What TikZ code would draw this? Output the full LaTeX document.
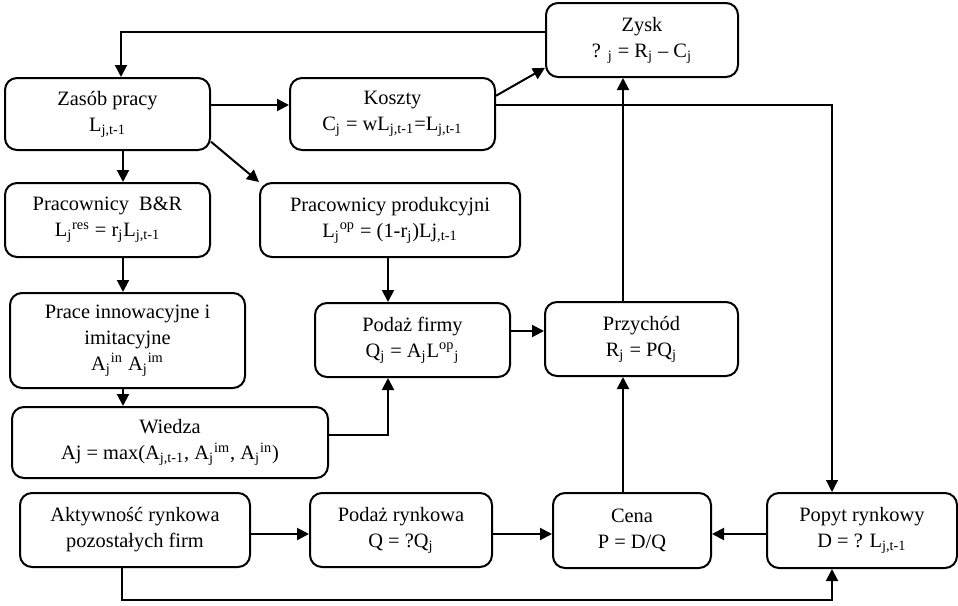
\documentclass[tikz,border=0pt]{standalone}
\usepackage{fontspec}
\setmainfont{Liberation Serif}
\usetikzlibrary{arrows.meta}

\tikzset{
  blok/.style={draw=black, line width=1pt, rounded corners=6pt, align=center, inner sep=2pt, font=\fontsize{10.2}{13}\selectfont},
  strz/.style={line width=1pt, -{Triangle[length=6pt,width=6pt]}},
  cienka/.style={line width=0.6pt, -{Triangle[length=6pt,width=6pt]}}
}

\begin{document}
\begin{tikzpicture}[x=0.5pt,y=-0.5pt]
        \useasboundingbox (0,0) rectangle (958,605);

        \node (zysk) [blok, minimum width=96pt, minimum height=37pt] at (642,40) {Zysk\\? \textsubscript{j} = R\textsubscript{j} – C\textsubscript{j}};
        \node (zasob) [blok, minimum width=102.5pt, minimum height=36pt] at (107.5,114) {Zasób pracy\\L\textsubscript{j,t-1}};
        \node (koszty) [blok, minimum width=102.5pt, minimum height=36pt] at (392.5,114) {Koszty\\C\textsubscript{j} = wL\textsubscript{j,t-1}=L\textsubscript{j,t-1}};
        \node (bir) [blok, minimum width=102.5pt, minimum height=37pt] at (107.5,220) {Pracownicy\ \ B\&R\\L\textsubscript{j}\textsuperscript{res} = r\textsubscript{j}L\textsubscript{j,t-1}};
        \node (prod) [blok, minimum width=130pt, minimum height=37pt] at (390,220) {Pracownicy produkcyjni\\L\textsubscript{j}\textsuperscript{op} = (1-r\textsubscript{j})Lj\textsubscript{,t-1}};
        \node (prace) [blok, minimum width=117.5pt, minimum height=47.5pt] at (127.5,340.5) {Prace innowacyjne i\\imitacyjne\\A\textsubscript{j}\textsuperscript{in} A\textsubscript{j}\textsuperscript{im}};
        \node (podazf) [blok, minimum width=97.5pt, minimum height=37pt] at (412.5,340) {Podaż firmy\\Q\textsubscript{j} = A\textsubscript{j}L\textsuperscript{op}\textsubscript{j}};
        \node (przychod) [blok, minimum width=96.5pt, minimum height=37pt] at (641.5,339) {Przychód\\R\textsubscript{j} = PQ\textsubscript{j}};
        \node (wiedza) [blok, minimum width=158pt, minimum height=35.5pt] at (170,442.5) {Wiedza\\Aj = max(A\textsubscript{j,t-1}, A\textsubscript{j}\textsuperscript{im}, A\textsubscript{j}\textsuperscript{in})};
        \node (aktyw) [blok, minimum width=115pt, minimum height=37pt] at (135,530) {Aktywność rynkowa\\pozostałych firm};
        \node (podazr) [blok, minimum width=91pt, minimum height=37pt] at (401,530) {Podaż rynkowa\\Q = ?Q\textsubscript{j}};
        \node (cena) [blok, minimum width=79pt, minimum height=37.5pt] at (632,530.5) {Cena\\P = D/Q};
        \node (popyt) [blok, minimum width=95pt, minimum height=37.5pt] at (862,530.5) {Popyt rynkowy\\D = ? L\textsubscript{j,t-1}};

        \coordinate (lewo) at (121,32);
        \coordinate (kolA) at (123,0);
        \coordinate (kolB) at (388,0);
        \coordinate (kolC) at (623,0);
        \coordinate (kolD) at (832,0);
        \coordinate (rzadK) at (0,105);
        \coordinate (rzadP) at (0,331);
        \coordinate (rzadW) at (0,435);
        \coordinate (rzadC) at (0,534);
        \coordinate (dol) at (122,600);

        \draw [strz] (zysk.west |- lewo) -- (lewo) -- (zasob.north -| lewo);
        \draw [strz] (zasob.east |- rzadK) -- (koszty.west |- rzadK);
        \draw [strz] (zasob.-15) -- (prod.north west);
        \draw [strz] (koszty.10) -- (zysk.196);
        \draw [cienka] (koszty.east |- rzadK) -- (kolD |- rzadK) -- (popyt.north -| kolD);
        \draw [strz] (zasob.south -| kolA) -- (bir.north -| kolA);
        \draw [strz] (bir.south -| kolA) -- (prace.north -| kolA);
        \draw [strz] (prace.south -| kolA) -- (wiedza.north -| kolA);
        \draw [strz] (prod.south -| kolB) -- (podazf.north -| kolB);
        \draw [strz] (wiedza.east |- rzadW) -- (kolB |- rzadW) -- (podazf.south -| kolB);
        \draw [strz] (podazf.east |- rzadP) -- (przychod.west |- rzadP);
        \draw [strz] (przychod.north -| kolC) -- (zysk.south -| kolC);
        \draw [strz] (cena.north -| kolC) -- (przychod.south -| kolC);
        \draw [strz] (aktyw.east |- rzadC) -- (podazr.west |- rzadC);
        \draw [strz] (podazr.east |- rzadC) -- (cena.west |- rzadC);
        \draw [strz] (popyt.west |- rzadC) -- (cena.east |- rzadC);
        \draw [strz] (aktyw.south -| dol) -- (dol) -- (dol -| kolD) -- (popyt.south -| kolD);
\end{tikzpicture}
\end{document}
